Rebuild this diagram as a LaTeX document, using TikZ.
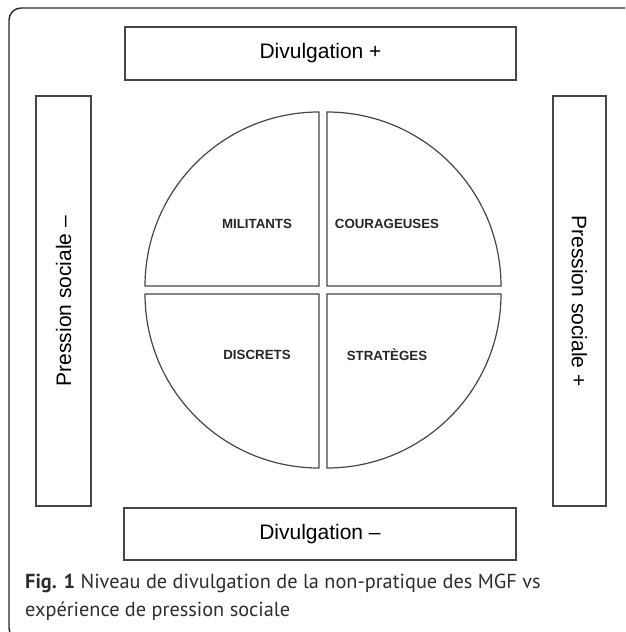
\documentclass[tikz,border=0pt]{standalone}
\usepackage{fontspec}
\setmainfont{Liberation Sans}
\newfontfamily\capfont{PT Sans}
\usepackage{tikz}
\definecolor{boxgray}{RGB}{70,70,70}
\definecolor{framecol}{RGB}{40,40,40}
\definecolor{capcol}{RGB}{45,45,45}
\tikzset{
  axisbox/.style={draw=boxgray, line width=1.3pt, inner sep=0pt,
                  font=\fontsize{21}{25}\selectfont, align=center},
  quadrant/.style={draw=boxgray, line width=1.2pt},
  quadlabel/.style={font=\fontsize{13.3}{15}\selectfont\bfseries, text=black!85},
}

\begin{document}
\begin{tikzpicture}[x=1pt, y=-1pt]
  \useasboundingbox (0,0) rectangle (625,632);
  \clip (0,0) rectangle (625,632);

  % Frame
  \draw[framecol, line width=1.4pt, rounded corners=12] (9,8) rectangle (700,640);

  % Axes
  \node[axisbox, minimum width=391, minimum height=53] (divplus) at (320.5,53.5) {Divulgation +};
  \node[axisbox, minimum width=392, minimum height=52] (divminus) at (320,534) {Divulgation --};
  \node[axisbox, rotate=90, minimum width=410, minimum height=55] (pressminus) at (63.5,301) {Pression sociale --};
  \node[axisbox, rotate=-90, minimum width=410, minimum height=53] (pressplus) at (579.5,301) {Pression sociale +};

  % Quadrants
  \draw[quadrant] (319,286) -- ++(-174,0) arc[start angle=180, end angle=270, radius=174] -- cycle;
  \draw[quadrant] (327,286) -- ++(174,0) arc[start angle=0, end angle=-90, radius=174] -- cycle;
  \draw[quadrant] (319,294) -- ++(-174,0) arc[start angle=180, end angle=90, radius=174] -- cycle;
  \draw[quadrant] (327,294) -- ++(174,0) arc[start angle=0, end angle=90, radius=174] -- cycle;

  \node[quadlabel] (militants) at (257,224) {MILITANTS};
  \node[quadlabel] (courageuses) at (387,224) {COURAGEUSES};
  \node[quadlabel] (discrets) at (257,355) {DISCRETS};
  \node[quadlabel] (strateges) at (387,355) {STRATÈGES};

  % Caption
  \node[anchor=base west, align=left, inner sep=0pt, text=capcol,
        font=\fontsize{20.3}{28}\capfont] (caption) at (25,616)
    {\textbf{Fig. 1} Niveau de divulgation de la non-pratique des MGF vs\\
     expérience de pression sociale};

\end{tikzpicture}
\end{document}
